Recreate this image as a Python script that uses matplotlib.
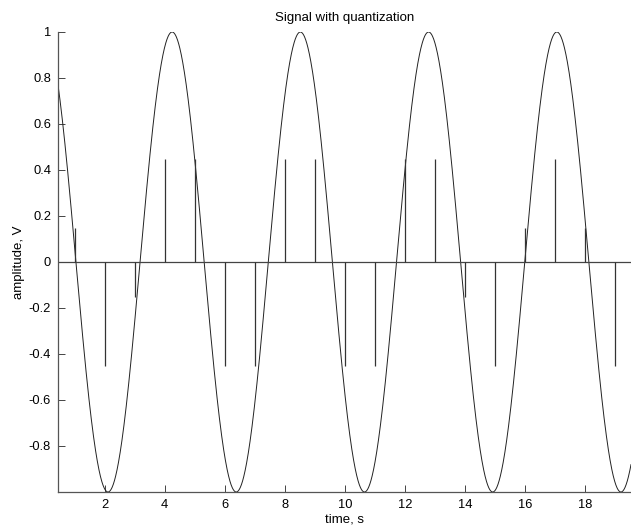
import numpy as np
import matplotlib
matplotlib.use("Agg")
import matplotlib.pyplot as plt

plt.rcParams['font.family'] = ['Liberation Sans', 'DejaVu Sans']

# analog signal: unit cosine, one peak at t_peak, period in seconds
amplitude = 1.0
period = 4.27
t_peak = 4.25
t_start, t_end = 0.45, 19.53

# sampled and quantized values at t = 1..19 s
sample_t = [1, 2, 3, 4, 5, 6, 7, 8, 9, 10, 11, 12, 13, 14, 15, 16, 17, 18, 19]
sample_q = [0.15, -0.45, -0.15, 0.45, 0.45, -0.45, -0.45, 0.45, 0.45, -0.45,
            -0.45, 0.45, 0.45, -0.15, -0.45, 0.15, 0.45, 0.15, -0.45]

x_ticks = [2, 4, 6, 8, 10, 12, 14, 16, 18]
y_ticks = [-0.8, -0.6, -0.4, -0.2, 0, 0.2, 0.4, 0.6, 0.8, 1]
y_labels = ['-0.8', '-0.6', '-0.4', '-0.2', '0', '0.2', '0.4', '0.6', '0.8', '1']

t = np.linspace(t_start, t_end, 2000)
signal = amplitude * np.cos(2 * np.pi * (t - t_peak) / period)

fig = plt.figure(figsize=(6.31, 5.26), dpi=100)
ax = fig.add_axes([58 / 631, 34 / 526, 573 / 631, 460 / 526])

ax.plot(t, signal, color='#222222', lw=0.7)
ax.axhline(0, color='#444444', lw=0.9)
ax.vlines(sample_t, 0, sample_q, color='#333333', lw=0.9)

ax.set_xlim(t_start, t_end)
ax.set_ylim(-1, 1)
ax.set_xticks(x_ticks)
ax.set_yticks(y_ticks)
ax.set_yticklabels(y_labels)
ax.tick_params(direction='in', length=5, width=0.7, labelsize=9.3, pad=5,
               color='#444444')
for side in ['top', 'right']:
    ax.spines[side].set_visible(False)
for side in ['left', 'bottom']:
    ax.spines[side].set_color('#555555')
    ax.spines[side].set_linewidth(0.9)

ax.set_title('Signal with quantization', fontsize=9.5, pad=8)
ax.set_xlabel('time, s', fontsize=9.5, labelpad=1.5)
ax.set_ylabel('amplitude, V', fontsize=9.5, labelpad=3)

fig.savefig('out.png', dpi=100)
